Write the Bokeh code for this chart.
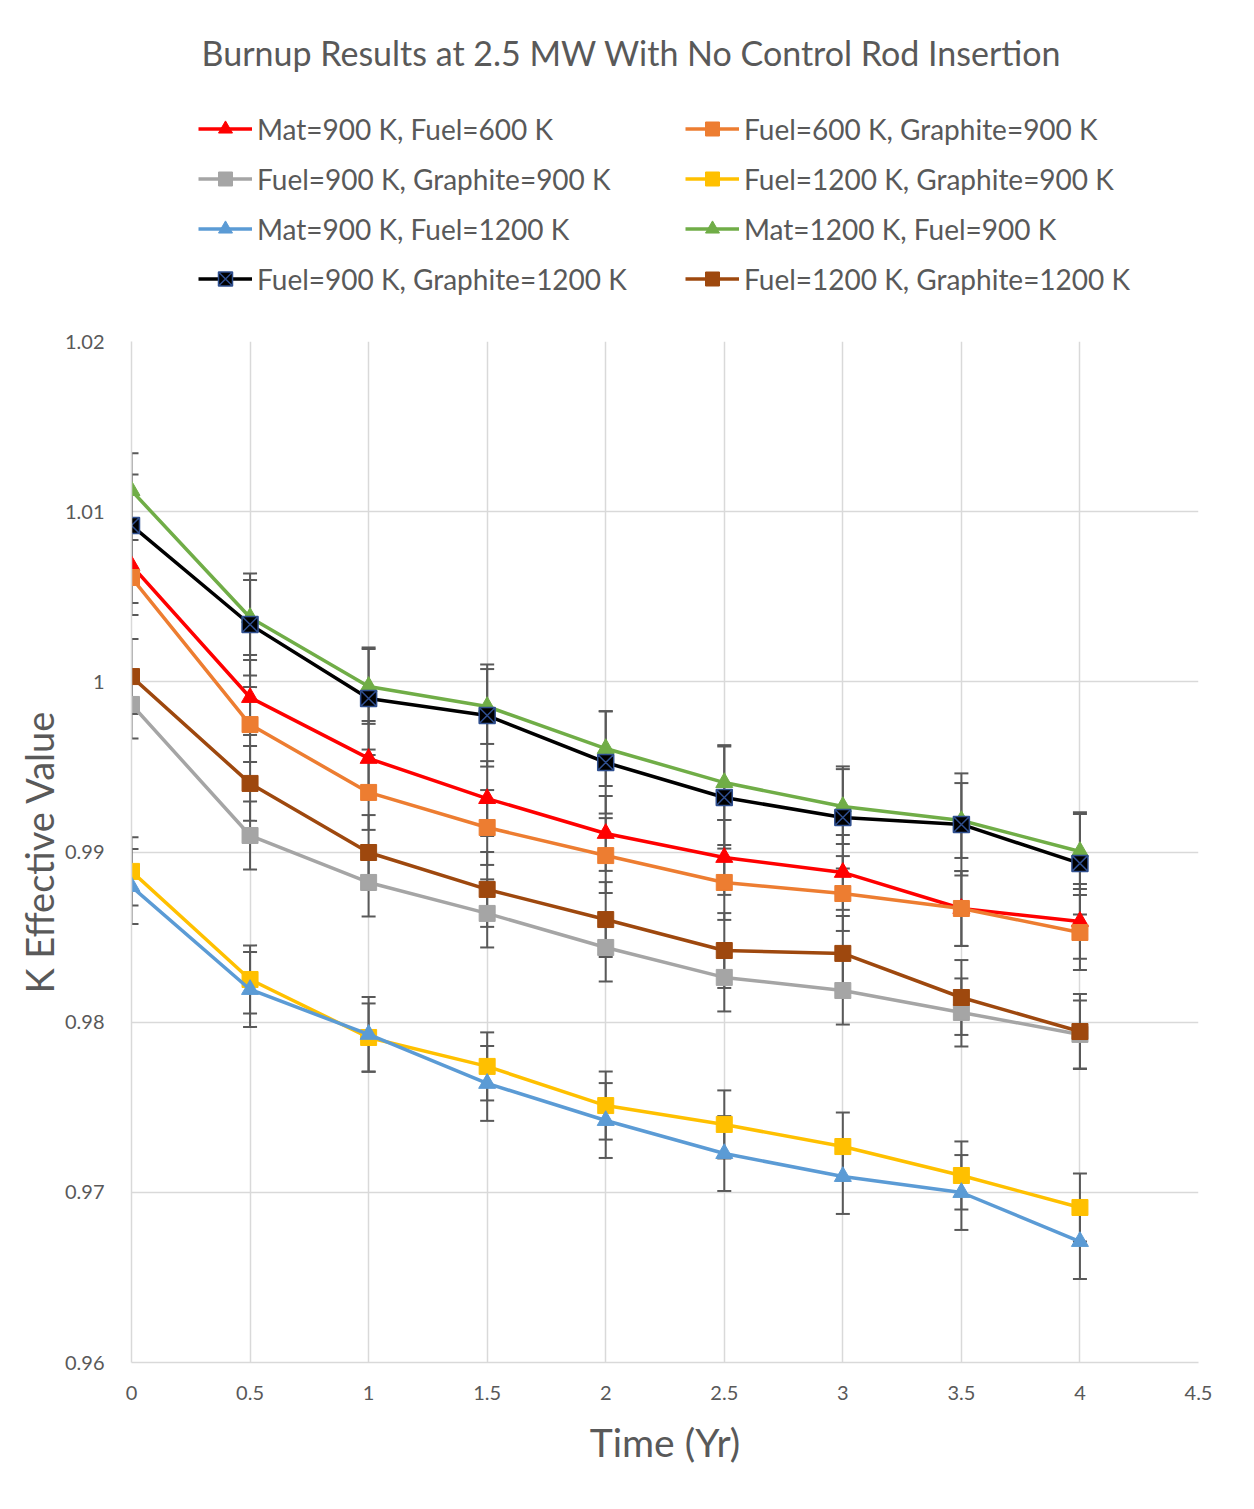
from bokeh.plotting import figure
from bokeh.layouts import column
from bokeh.models import (ColumnDataSource, Whisker, TeeHead, Legend, LegendItem, Label,
                          FixedTicker, CustomJSTickFormatter, Range1d)
from bokeh.embed import file_html
from bokeh.resources import INLINE

# ---------------- data ----------------
time_yr = [0, 0.5, 1, 1.5, 2, 2.5, 3, 3.5, 4]

k_mat900_fuel600 = [1.00684, 0.99908, 0.99550, 0.99314, 0.99109, 0.98968, 0.98880, 0.98668, 0.98592]
k_fuel600_gr900 = [1.00613, 0.99749, 0.99350, 0.99144, 0.98979, 0.98821, 0.98756, 0.98668, 0.98527]
k_fuel900_gr900 = [0.99867, 0.99097, 0.98821, 0.98639, 0.98439, 0.98263, 0.98186, 0.98057, 0.97928]
k_fuel1200_gr900 = [0.98886, 0.98251, 0.97910, 0.97740, 0.97510, 0.97399, 0.97269, 0.97099, 0.96911]
k_mat900_fuel1200 = [0.98797, 0.98192, 0.97928, 0.97640, 0.97422, 0.97228, 0.97093, 0.96999, 0.96711]
k_mat1200_fuel900 = [1.01124, 1.00378, 0.99973, 0.99855, 0.99608, 0.99408, 0.99267, 0.99185, 0.99003]
k_fuel900_gr1200 = [1.00919, 1.00337, 0.99902, 0.99802, 0.99526, 0.99320, 0.99203, 0.99162, 0.98933]
k_fuel1200_gr1200 = [1.00031, 0.99403, 0.98997, 0.98780, 0.98603, 0.98421, 0.98404, 0.98145, 0.97945]

series_labels = [
    "Mat=900 K, Fuel=600 K",
    "Fuel=600 K, Graphite=900 K",
    "Fuel=900 K, Graphite=900 K",
    "Fuel=1200 K, Graphite=900 K",
    "Mat=900 K, Fuel=1200 K",
    "Mat=1200 K, Fuel=900 K",
    "Fuel=900 K, Graphite=1200 K",
    "Fuel=1200 K, Graphite=1200 K",
]
series_values = [k_mat900_fuel600, k_fuel600_gr900, k_fuel900_gr900, k_fuel1200_gr900,
                 k_mat900_fuel1200, k_mat1200_fuel900, k_fuel900_gr1200, k_fuel1200_gr1200]
series_errors = [0.0022, 0.0022, 0.0020, 0.0020, 0.0022, 0.0022, 0.0030, 0.0022]

x_ticks = [0, 0.5, 1, 1.5, 2, 2.5, 3, 3.5, 4, 4.5]
y_ticks = [0.96, 0.97, 0.98, 0.99, 1.00, 1.01, 1.02]

title_text = "Burnup Results at 2.5 MW With No Control Rod Insertion"
x_label = "Time (Yr)"
y_label = "K Effective Value"

# ---------------- styles ----------------
colors = ["#FF0000", "#ED7D31", "#A5A5A5", "#FFC000", "#5B9BD5", "#70AD47", "#000000", "#9E480E"]
markers = ["triangle", "square", "square", "square", "triangle", "triangle", "square_x", "square"]
marker_line = ["#FF0000", "#ED7D31", "#A5A5A5", "#FFC000", "#5B9BD5", "#70AD47", "#2F4F8F", "#9E480E"]
FONT = "Lato"
TXT = "#595959"
GRID = "#D9D9D9"

W, H = 1250, 1505
HEAD = 321                      # header (title + legend) height
ML, MT = 131, 341 - HEAD
MR, MB = W - 1198, H - 1362

# ---------------- header: title + legend (frame aligned with main frame) ----------------
ph = figure(width=W, height=HEAD, output_backend="svg", toolbar_location=None,
            x_range=Range1d(100, 200), y_range=Range1d(100, 200),
            x_axis_location=None, y_axis_location=None,
            min_border_left=ML, min_border_right=MR, min_border_top=0, min_border_bottom=0)
ph.grid.visible = False
ph.outline_line_color = None
ph.background_fill_color = "white"
ph.border_fill_color = "white"

# ---------------- main plot ----------------
p = figure(width=W, height=H - HEAD, output_backend="svg", toolbar_location=None,
           x_range=Range1d(0, 4.5), y_range=Range1d(0.96, 1.02),
           min_border_left=ML, min_border_right=MR, min_border_top=MT, min_border_bottom=MB)
p.outline_line_color = None
p.background_fill_color = "white"
p.border_fill_color = "white"

fmt = CustomJSTickFormatter(code="return String(parseFloat(tick.toFixed(3)));")
p.xaxis.ticker = FixedTicker(ticks=x_ticks)
p.yaxis.ticker = FixedTicker(ticks=y_ticks)
p.xaxis.formatter = fmt
p.yaxis.formatter = fmt
p.xgrid.ticker = FixedTicker(ticks=x_ticks)
p.ygrid.ticker = FixedTicker(ticks=y_ticks)
p.grid.grid_line_color = GRID
p.grid.grid_line_width = 1.5

p.axis.axis_line_color = GRID
p.axis.axis_line_width = 1.5
p.axis.major_tick_line_color = None
p.axis.minor_tick_line_color = None
p.axis.major_label_text_font = FONT
p.axis.major_label_text_color = TXT
p.axis.major_label_text_font_size = "20px"
p.yaxis.major_label_standoff = 21
p.xaxis.major_label_standoff = 17
p.xaxis.axis_label = x_label
p.yaxis.axis_label = y_label
p.axis.axis_label_text_font = FONT
p.axis.axis_label_text_color = TXT
p.axis.axis_label_text_font_style = "normal"
p.yaxis.axis_label_text_font_size = "38px"
p.xaxis.axis_label_text_font_size = "39px"
p.xaxis.axis_label_standoff = 16
p.yaxis.axis_label_standoff = 0

items = []
for lab, vals, err, col, mk, mlc in zip(series_labels, series_values, series_errors,
                                        colors, markers, marker_line):
    src = ColumnDataSource(dict(x=time_yr, y=vals,
                                upper=[v + err for v in vals],
                                lower=[v - err for v in vals]))
    wh = Whisker(base="x", upper="upper", lower="lower", source=src, level="underlay",
                 line_color="#595959", line_width=2,
                 upper_head=TeeHead(size=14, line_color="#595959", line_width=2),
                 lower_head=TeeHead(size=14, line_color="#595959", line_width=2))
    p.add_layout(wh)
    sz = 17 if mk == "triangle" else 16
    lw = 1.5 if mk == "square_x" else 1
    p.line("x", "y", source=src, line_color=col, line_width=3.5)
    p.scatter("x", "y", source=src, marker=mk, size=sz, fill_color=col,
              line_color=mlc, line_width=lw)
    # legend proxies in the header (same data, outside the header's ranges)
    hl = ph.line("x", "y", source=src, line_color=col, line_width=3.5)
    hs = ph.scatter("x", "y", source=src, marker=mk, size=sz, fill_color=col,
                    line_color=mlc, line_width=lw)
    items.append(LegendItem(label=lab, renderers=[hl, hs]))

leg_kw = dict(glyph_width=54, glyph_height=35, label_height=35, spacing=15,
              label_standoff=5, padding=0, margin=0, border_line_alpha=0,
              background_fill_alpha=0, label_text_font=FONT, label_text_color=TXT,
              label_text_font_size="28px")
leg_bottom = HEAD - 296
ph.add_layout(Legend(items=items[0::2], location=(198 - ML, leg_bottom), **leg_kw))
ph.add_layout(Legend(items=items[1::2], location=(685 - ML, leg_bottom), **leg_kw))

ph.add_layout(Label(x=631 - ML, y=HEAD - 52, x_units="screen", y_units="screen",
                    text=title_text, text_align="center", text_baseline="middle",
                    text_font=FONT, text_font_size="34px", text_color=TXT))

open("out.html", "w").write(file_html(column(ph, p, spacing=0), INLINE))
